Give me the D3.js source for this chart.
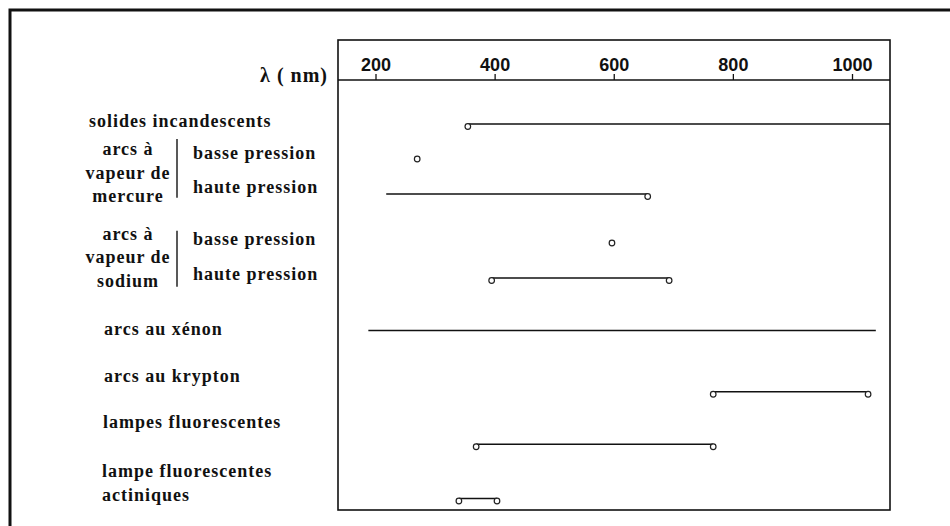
<!DOCTYPE html>
<html>
<head>
<meta charset="utf-8">
<script src="https://cdn.jsdelivr.net/npm/d3@7"></script>
<style>
  body { margin: 0; background: #fff; }
  svg text.lab { font-family: "Liberation Serif", "DejaVu Serif", "Times New Roman", serif; font-weight: bold; font-size: 18px; letter-spacing: 1px; fill: #111; }
  .tick text { font-family: "Liberation Sans", Arial, sans-serif; font-weight: bold; font-size: 18px; fill: #111; }
</style>
</head>
<body>
<svg id="viz"></svg>
<script>
// Spectral ranges of light sources (nm)
const rowNames = ["solides", "hg-basse", "hg-haute", "na-basse", "na-haute", "xenon", "krypton", "fluo", "actin"];
const rowPos   = [0, 1, 2, 3.4, 4.4, 5.9, 7.65, 9.15, 10.7];
const rangeStart = [355, 270, 218, 597, 395, 188, 767, 369, 340];
const rangeEnd   = [1100, null, 657, null, 693, 1040, 1027, 767, 404];
const markStart  = [true, true, false, true, true, false, true, true, true];
const markEnd    = [false, false, true, false, true, false, true, true, true];

const tickValues = [200, 400, 600, 800, 1000];

// Left-hand labels: text lines, anchor, row unit position
const simpleLabels = [
  { lines: ["solides incandescents"], x: 89, pos: 0.09 },
  { lines: ["basse pression"], x: 193, pos: 1.0 },
  { lines: ["haute pression"], x: 193, pos: 1.97 },
  { lines: ["basse pression"], x: 193, pos: 3.46 },
  { lines: ["haute pression"], x: 193, pos: 4.46 },
  { lines: ["arcs au xénon"], x: 104, pos: 6.03 },
  { lines: ["arcs au krypton"], x: 104, pos: 7.37 },
  { lines: ["lampes fluorescentes"], x: 103, pos: 8.69 },
  { lines: ["lampe fluorescentes", "actiniques"], x: 102, pos: 10.09 }
];
const groupLabels = [
  { lines: ["arcs à", "vapeur de", "mercure"], pos: 0.89, bracket: [0.43, 2.11] },
  { lines: ["arcs à", "vapeur de", "sodium"], pos: 3.31, bracket: [3.05, 4.65] }
];

const width = 950, height = 526;
const box = { left: 338, right: 890, top: 40, axis: 80, bottom: 510 };
const serif = '"Liberation Serif", "DejaVu Serif", serif';

const svg = d3.select("#viz").attr("width", width).attr("height", height);

// outer frame (runs off the page right and bottom)
svg.append("path")
  .attr("d", `M10,${height + 10} V10 H${width + 10}`)
  .attr("fill", "none").attr("stroke", "#111").attr("stroke-width", 3);

const x = d3.scaleLinear().domain([200, 1000]).range([375.5, 852]);
const y = d3.scaleLinear().domain([0, 1]).range([124, 159]);

svg.append("defs").append("clipPath").attr("id", "plotclip")
  .append("rect")
  .attr("x", box.left).attr("y", box.axis)
  .attr("width", box.right - box.left).attr("height", box.bottom - box.axis);

// plot box
svg.append("rect")
  .attr("x", box.left).attr("y", box.top)
  .attr("width", box.right - box.left).attr("height", box.bottom - box.top)
  .attr("fill", "none").attr("stroke", "#111").attr("stroke-width", 1.6);

// axis along the inner line
const axis = svg.append("g")
  .attr("transform", `translate(0, ${box.axis})`)
  .call(d3.axisTop(x).tickValues(tickValues).tickSize(6).tickPadding(3).tickFormat(d3.format("d")));
axis.select(".domain").attr("d", `M${box.left},0H${box.right}`).attr("stroke", "#111").attr("stroke-width", 1.6);
axis.selectAll(".tick line").attr("stroke", "#111").attr("stroke-width", 1.3);

svg.append("text")
  .attr("class", "lab")
  .attr("font-family", serif)
  .attr("x", 328).attr("y", 82)
  .attr("text-anchor", "end")
  .style("font-size", "20px").style("letter-spacing", "1px")
  .text("λ ( nm)");

// ranges
const rows = rowNames.map((n, i) => ({
  name: n, pos: rowPos[i], start: rangeStart[i], end: rangeEnd[i],
  ms: markStart[i], me: markEnd[i]
}));

const plot = svg.append("g").attr("clip-path", "url(#plotclip)");

plot.selectAll(".range")
  .data(rows.filter(d => d.end !== null))
  .enter().append("line")
  .attr("class", "range")
  .attr("x1", d => x(d.start)).attr("x2", d => x(d.end))
  .attr("y1", d => y(d.pos)).attr("y2", d => y(d.pos))
  .attr("stroke", "#111").attr("stroke-width", 1.5);

const marks = [];
rows.forEach(d => {
  const off = d.end === null ? 0 : 2.5;
  if (d.ms) marks.push({ v: d.start, pos: d.pos, off });
  if (d.me) marks.push({ v: d.end, pos: d.pos, off });
});
plot.selectAll(".mark")
  .data(marks)
  .enter().append("circle")
  .attr("class", "mark")
  .attr("cx", d => x(d.v)).attr("cy", d => y(d.pos) + d.off)
  .attr("r", 2.8)
  .attr("fill", "#fff").attr("stroke", "#222").attr("stroke-width", 1.2);

// labels
simpleLabels.forEach(l => {
  const t = svg.append("text").attr("class", "lab").attr("font-family", serif)
    .attr("x", l.x).attr("y", y(l.pos));
  l.lines.forEach((s, i) => t.append("tspan").attr("x", l.x).attr("dy", i ? 24 : 0).text(s));
});

groupLabels.forEach(g => {
  const t = svg.append("text").attr("class", "lab").attr("font-family", serif)
    .attr("x", 128).attr("y", y(g.pos)).attr("text-anchor", "middle");
  g.lines.forEach((s, i) => t.append("tspan").attr("x", 128).attr("dy", i ? 23.5 : 0).text(s));
  svg.append("line")
    .attr("x1", 177).attr("x2", 177)
    .attr("y1", y(g.bracket[0])).attr("y2", y(g.bracket[1]))
    .attr("stroke", "#222").attr("stroke-width", 1.5);
});
</script>
</body>
</html>
